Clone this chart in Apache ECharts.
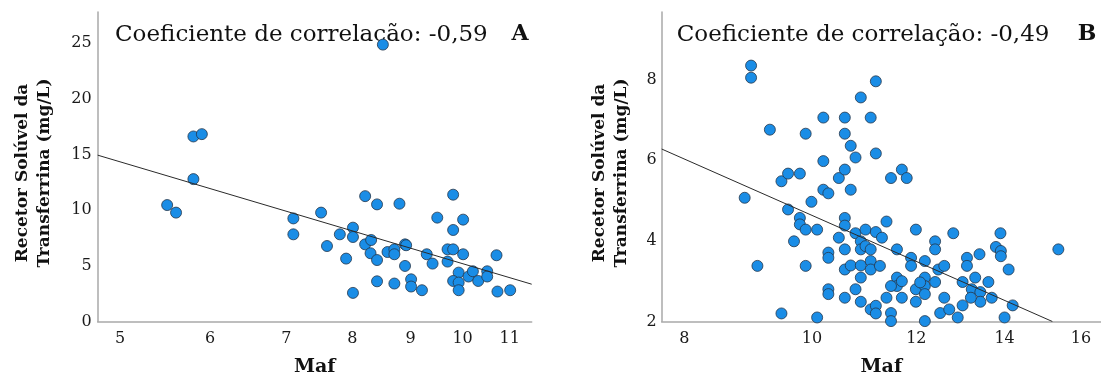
<!DOCTYPE html>
<html>
<head>
<meta charset="utf-8">
<script src="https://cdn.jsdelivr.net/npm/echarts@6/dist/echarts.min.js"></script>
<style>
  html, body { margin: 0; padding: 0; background: #ffffff; }
  #chart { width: 1101px; height: 382px; }
</style>
</head>
<body>
<div id="chart"></div>
<script>
// Panel A: Maf vs soluble transferrin receptor (mg/L)
const mafA = [5.50, 5.60, 5.80, 5.90, 5.80, 7.10, 7.10,
  8.51, 7.51, 8.21, 8.41, 8.80, 9.81, 9.50, 10.01, 9.81, 8.01, 7.80, 8.01, 7.60, 7.90,
  8.21, 8.31, 8.30, 8.41, 8.59, 8.71, 8.71, 8.90, 8.92, 8.90, 8.41, 8.71, 9.01, 9.01,
  9.21, 8.01, 9.30, 9.41, 9.70, 9.81, 9.70, 10.01, 10.71, 9.92, 9.81, 9.92, 9.92,
  10.12, 10.21, 10.32, 10.51, 10.51, 10.73, 11.01];
const strA = [10.46, 9.78, 16.62, 16.83, 12.79, 9.26, 7.83,
  24.87, 9.78, 11.26, 10.52, 10.58, 11.39, 9.33, 9.15, 8.22, 8.43, 7.83, 7.59, 6.78, 5.65,
  6.93, 7.32, 6.13, 5.52, 6.24, 6.48, 6.04, 6.93, 6.85, 4.99, 3.61, 3.41, 3.79, 3.14,
  2.81, 2.57, 6.04, 5.20, 6.48, 6.48, 5.38, 6.04, 5.95, 4.39, 3.64, 3.50, 2.81,
  4.04, 4.51, 3.64, 4.51, 4.04, 2.69, 2.81];

// Panel B
const mafB = [8.99, 8.99, 9.29, 8.89, 9.09, 9.48, 9.59, 9.79, 9.89, 9.59, 9.79, 9.79,
  9.89, 10.09, 9.69, 9.89, 9.99, 10.20, 10.20, 10.20, 10.29, 10.29, 10.29, 10.29, 10.29,
  9.48, 10.09, 10.48, 10.59, 10.59, 10.59, 10.70, 10.79, 10.70, 10.89, 11.08, 11.18, 11.18,
  10.59, 10.59, 10.48, 10.59, 10.59, 10.70, 10.59, 10.79, 10.79, 10.89, 10.89, 10.98,
  10.98, 11.08, 11.18, 10.89, 10.89, 11.08, 11.08, 11.26, 10.89, 11.08, 11.18, 11.18,
  11.30, 11.48, 11.70, 11.80, 11.39, 11.60, 11.99, 12.40, 12.40, 12.80, 11.89, 11.89,
  12.18, 12.47, 12.60, 11.60, 11.60, 11.70, 11.48, 11.39, 11.48, 11.48, 11.70, 11.99,
  11.99, 12.18, 12.18, 12.18, 12.08, 12.40, 12.18, 12.51, 12.60, 12.71, 12.90, 13.01,
  13.01, 13.11, 13.11, 13.30, 13.22, 13.42, 13.42, 13.20, 13.40, 13.61, 13.69, 13.79,
  13.91, 13.91, 13.90, 14.10, 14.20, 14.00, 15.38];
const strB = [8.35, 8.05, 6.76, 5.07, 3.38, 5.48, 5.67, 5.67, 6.66, 4.78, 4.57, 4.41,
  4.28, 4.28, 3.99, 3.38, 4.97, 7.06, 5.98, 5.27, 5.18, 3.71, 3.58, 2.80, 2.68,
  2.20, 2.10, 5.56, 7.06, 6.66, 5.77, 6.36, 6.07, 5.27, 7.56, 7.06, 7.96, 6.17,
  4.57, 4.38, 4.08, 3.79, 3.29, 3.39, 2.59, 2.80, 4.19, 3.99, 3.79, 4.28,
  3.87, 3.79, 4.22, 3.39, 3.09, 3.50, 3.29, 3.38, 2.49, 2.30, 2.39, 2.20,
  4.08, 5.56, 5.77, 5.56, 4.48, 3.79, 4.28, 3.99, 3.79, 4.19, 3.58, 3.38,
  3.50, 3.29, 3.38, 3.09, 2.88, 3.00, 2.88, 2.59, 2.21, 2.01, 2.59, 2.80,
  2.49, 3.09, 2.88, 2.68, 2.97, 2.98, 2.01, 2.21, 2.59, 2.30, 2.10, 2.40,
  2.98, 3.58, 3.38, 3.09, 2.80, 2.73, 2.49, 2.59, 3.67, 2.98, 2.59, 3.85,
  3.75, 3.62, 4.19, 3.29, 2.40, 2.10, 3.79];

// Fitted regression lines (end points)
const fitMafA = [4.779, 11.5];
const fitStrA = [14.94, 3.35];
const fitMafB = [7.69, 15.22];
const fitStrB = [6.28, 2.0];

// Tick labels
const ticksMafA = [5, 6, 7, 8, 9, 10, 11];
const ticksStrA = [0, 5, 10, 15, 20, 25];
const ticksMafB = [8, 10, 12, 14, 16];
const ticksStrB = [2, 4, 6, 8];

const corrA = '-0,59';
const corrB = '-0,49';
const yName = 'Recetor Solúvel da\nTransferrina (mg/L)';

const SERIF = '"DejaVu Serif", serif';
const axisGrey = '#a9a9a9';
const dotFill = '#1a8de6';
const dotEdge = '#24364a';

function pairs(xs, ys) { return xs.map((x, i) => [x, ys[i]]); }

function xAxisFor(gridIndex, min, max, ticks) {
  return {
    type: 'log', logBase: 10, gridIndex, min, max,
    axisLine: { show: true, onZero: false, lineStyle: { color: axisGrey, width: 1.5 } },
    axisTick: { show: false },
    splitLine: { show: false },
    axisLabel: { customValues: ticks, margin: 9, color: '#1a1a1a', fontFamily: SERIF, fontSize: 16 },
    name: 'Maf', nameLocation: 'middle', nameGap: 46,
    nameTextStyle: { fontFamily: SERIF, fontWeight: 'bold', fontSize: 19, color: '#111', verticalAlign: 'middle' }
  };
}
function yAxisFor(gridIndex, min, max, ticks, margin) {
  return {
    type: 'value', gridIndex, min, max,
    axisLine: { show: true, onZero: false, lineStyle: { color: axisGrey, width: 1.5 } },
    axisTick: { show: false },
    splitLine: { show: false },
    axisLabel: { customValues: ticks, margin, color: '#1a1a1a', fontFamily: SERIF, fontSize: 16 }
  };
}
function scatter(i, xs, ys) {
  return {
    type: 'scatter', xAxisIndex: i, yAxisIndex: i, data: pairs(xs, ys),
    symbol: 'circle', symbolSize: 11, z: 2,
    itemStyle: { color: dotFill, borderColor: dotEdge, borderWidth: 0.8, opacity: 1 }
  };
}
function fit(i, xs, ys) {
  return {
    type: 'line', xAxisIndex: i, yAxisIndex: i, data: pairs(xs, ys),
    symbol: 'none', silent: true, z: 3,
    lineStyle: { color: '#2a2a2a', width: 1 }
  };
}
function text(x, y, str, size, weight, align, rotation) {
  return {
    type: 'text', x, y, rotation: rotation || 0, silent: true,
    style: {
      text: str, fill: '#111', fontFamily: SERIF, fontSize: size, fontWeight: weight,
      align, verticalAlign: 'middle', lineHeight: 22
    }
  };
}

const chart = echarts.init(document.getElementById('chart'), null, { renderer: 'canvas' });
chart.setOption({
  animation: false,
  backgroundColor: '#ffffff',
  grid: [
    { left: 97.7, top: 12, width: 434, height: 310.3 },
    { left: 661.7, top: 12, width: 439.3, height: 310.3 }
  ],
  xAxis: [
    xAxisFor(0, 4.779, 11.5, ticksMafA),
    xAxisFor(1, 7.69, 16.57, ticksMafB)
  ],
  yAxis: [
    yAxisFor(0, 0, 27.8, ticksStrA, 6),
    yAxisFor(1, 2, 9.68, ticksStrB, 5)
  ],
  series: [
    scatter(0, mafA, strA), fit(0, fitMafA, fitStrA),
    scatter(1, mafB, strB), fit(1, fitMafB, fitStrB)
  ],
  graphic: [
    text(115, 34.7, 'Coeficiente de correlação: ' + corrA, 23, 'normal', 'left'),
    text(520, 34.7, 'A', 22, 'bold', 'center'),
    text(676.7, 34.7, 'Coeficiente de correlação: ' + corrB, 23, 'normal', 'left'),
    text(1087, 34.7, 'B', 22, 'bold', 'center'),
    text(33.3, 173, yName, 17, 'bold', 'center', Math.PI / 2),
    text(610.5, 173, yName, 17, 'bold', 'center', Math.PI / 2)
  ]
});
</script>
</body>
</html>
